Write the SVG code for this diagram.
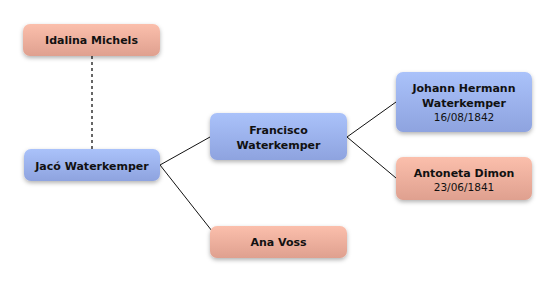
<svg xmlns="http://www.w3.org/2000/svg" width="556" height="282" viewBox="0 0 556 282">
<defs>
<linearGradient id="pink" x1="0" y1="0" x2="0" y2="1"><stop offset="0" stop-color="#fbbfac"/><stop offset="1" stop-color="#dfa08f"/></linearGradient>
<linearGradient id="blue" x1="0" y1="0" x2="0" y2="1"><stop offset="0" stop-color="#aac2fa"/><stop offset="1" stop-color="#8ea3df"/></linearGradient>
<filter id="sh" x="-20%" y="-30%" width="140%" height="170%"><feDropShadow dx="0" dy="2" stdDeviation="2" flood-color="#000" flood-opacity="0.3"/></filter>
</defs>
<style>
.n{filter:url(#sh);}
.p{fill:url(#pink);}
.b{fill:url(#blue);}
text{font-family:"DejaVu Sans",sans-serif;font-size:11px;font-weight:bold;fill:#111;text-anchor:middle;}
text.d{font-weight:normal;font-size:10.5px;}
.c{stroke:#111;stroke-width:1;fill:none;}
.dot{stroke:#666;stroke-width:2;stroke-dasharray:3,3;fill:none;}
</style>
<rect width="556" height="282" fill="#fff"/>
<g id="connectors">
<line class="dot" x1="92" y1="56" x2="92" y2="149"/>
<line class="c" x1="160" y1="165" x2="210" y2="137"/>
<line class="c" x1="160" y1="165" x2="212" y2="231"/>
<line class="c" x1="347" y1="137" x2="396" y2="102"/>
<line class="c" x1="347" y1="137" x2="396" y2="178"/>
</g>
<g id="idalina"><rect class="n p" x="23" y="24" width="137" height="32" rx="7"/><text x="91.5" y="44">Idalina Michels</text></g>
<g id="jaco"><rect class="n b" x="24" y="149" width="136" height="32" rx="7"/><text x="92" y="170">Jacó Waterkemper</text></g>
<g id="francisco"><rect class="n b" x="210" y="113" width="137" height="47" rx="7"/><text x="278.5" y="134">Francisco</text><text x="278.5" y="149">Waterkemper</text></g>
<g id="johann"><rect class="n b" x="396" y="72" width="136" height="60" rx="7"/><text x="464" y="92">Johann Hermann</text><text x="464" y="107">Waterkemper</text><text class="d" x="464" y="121">16/08/1842</text></g>
<g id="antoneta"><rect class="n p" x="396" y="157" width="136" height="43" rx="7"/><text x="464" y="177">Antoneta Dimon</text><text class="d" x="464" y="191">23/06/1841</text></g>
<g id="ana"><rect class="n p" x="210" y="226" width="137" height="32" rx="7"/><text x="278.5" y="246">Ana Voss</text></g>
</svg>
